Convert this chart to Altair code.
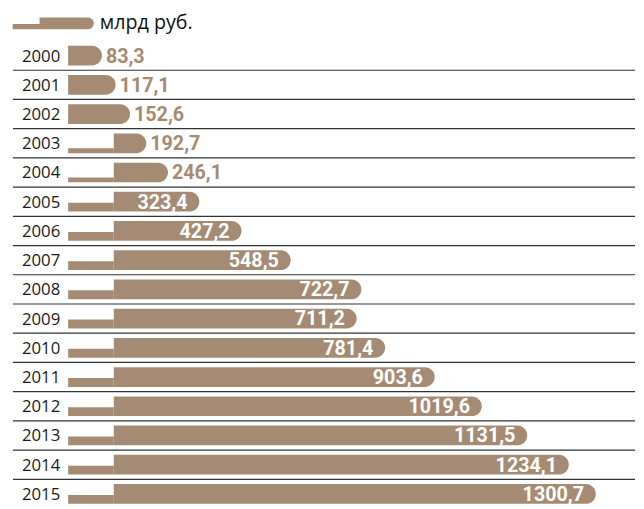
import altair as alt
import pandas as pd

years = [2000, 2001, 2002, 2003, 2004, 2005, 2006, 2007,
         2008, 2009, 2010, 2011, 2012, 2013, 2014, 2015]
values = [83.3, 117.1, 152.6, 192.7, 246.1, 323.4, 427.2, 548.5,
          722.7, 711.2, 781.4, 903.6, 1019.6, 1131.5, 1234.1, 1300.7]
unit_label = "млрд руб."

BREAK = 112.5  # where the "broken" bars become thick
BROWN = "#a68b74"

df = pd.DataFrame({"year": years, "value": values})
df["label"] = [f"{v:.1f}".replace(".", ",") for v in values]
df["zero"] = 0.0
df["brk"] = BREAK
df["start"] = [0.0 if y < 2003 else BREAK for y in years]

YRANGE = [29.88, 504.12]
yenc = alt.Y("year:O", axis=None,
             scale=alt.Scale(range=YRANGE, paddingInner=0, paddingOuter=0))
xscale = alt.Scale(domain=[0, 1400], range=[61, 637.1])

base = alt.Chart(df)

thin_a = base.transform_filter("datum.year >= 2003 && datum.year <= 2004").mark_bar(
    color=BROWN, size=5, yOffset=7.5
).encode(x=alt.X("zero:Q", scale=xscale, axis=None), x2="brk:Q", y=yenc)

thin_b = base.transform_filter("datum.year >= 2005").mark_bar(
    color=BROWN, size=9, yOffset=5.5
).encode(x=alt.X("zero:Q", scale=xscale, axis=None), x2="brk:Q", y=yenc)

thick = base.mark_bar(
    color=BROWN, size=20, cornerRadiusTopRight=10, cornerRadiusBottomRight=10
).encode(x=alt.X("start:Q", scale=xscale, axis=None), x2="value:Q", y=yenc)

rules = base.transform_filter("datum.year <= 2014").mark_rule(
    color="#333333", strokeWidth=1.2
).encode(
    y=alt.Y("year:O", axis=None, bandPosition=1,
            scale=alt.Scale(range=YRANGE, paddingInner=0, paddingOuter=0)),
    x=alt.value(5), x2=alt.value(636),
)

lab_out = base.transform_filter("datum.year <= 2004").mark_text(
    align="left", baseline="middle", dx=4, dy=1, font="Roboto",
    fontWeight="bold", fontSize=20, color=BROWN
).encode(x=alt.X("value:Q", scale=xscale, axis=None), y=yenc, text="label:N")

lab_in = base.transform_filter("datum.year >= 2005").mark_text(
    align="right", baseline="middle", dx=-12, dy=1, font="Roboto",
    fontWeight="bold", fontSize=20, color="white"
).encode(x=alt.X("value:Q", scale=xscale, axis=None), y=yenc, text="label:N")

year_lab = base.mark_text(
    align="right", baseline="middle", dy=1, font="Open Sans",
    fontSize=17, fontWeight=500, color="#1a1a1a"
).encode(x=alt.value(53), y=yenc, text="year:O")

one = alt.Chart(pd.DataFrame({"t": [unit_label]}))
leg_thin = one.mark_bar(color=BROWN).encode(
    x=alt.value(4.7), x2=alt.value(33), y=alt.value(12.7), y2=alt.value(18))
leg_thick = one.mark_bar(
    color=BROWN, cornerRadiusTopRight=6, cornerRadiusBottomRight=6
).encode(x=alt.value(32), x2=alt.value(87), y=alt.value(6), y2=alt.value(18))
leg_text = one.mark_text(
    align="left", baseline="middle", font="Open Sans", fontSize=20, color="#111111"
).encode(x=alt.value(93), y=alt.value(12), text="t:N")

chart = alt.layer(
    rules, thin_a, thin_b, thick, lab_out, lab_in, year_lab,
    leg_thin, leg_thick, leg_text
).properties(
    width=636, height=501, padding=0, background="white"
).configure_view(stroke=None)

chart.save("out.html", embed_options={"renderer": "svg", "actions": False})
